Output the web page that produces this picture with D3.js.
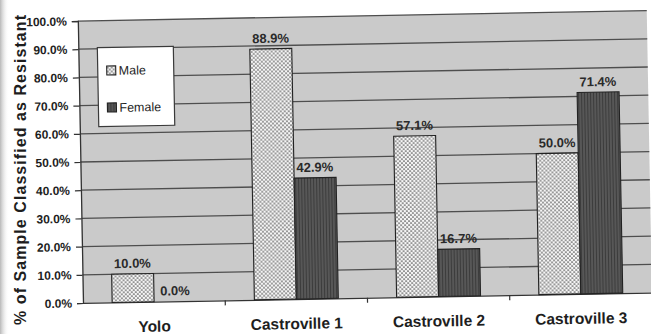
<!DOCTYPE html>
<html>
<head>
<meta charset="utf-8">
<script src="https://cdn.jsdelivr.net/npm/d3@7"></script>
<style>
  html, body { margin: 0; padding: 0; background: #ffffff; }
  svg { display: block; }
  text { font-family: "Liberation Sans", Arial, sans-serif; }
</style>
</head>
<body>
<svg id="chart" width="651" height="334"></svg>
<script>
// Share of samples classified as resistant, by site and sex
const categories = ["Yolo", "Castroville 1", "Castroville 2", "Castroville 3"];
const seriesNames = ["Male", "Female"];
const maleValues = [10.0, 88.9, 57.1, 50.0];
const femaleValues = [0.0, 42.9, 16.7, 71.4];
const yTickValues = [0, 10, 20, 30, 40, 50, 60, 70, 80, 90, 100];
const yTitle = "% of Sample Classified as Resistant";

const svg = d3.select("#chart");
const W = 651, H = 334;

// Layout
const plot = { left: 83, right: 652, top: 21, bottom: 303 };

const defs = svg.append("defs");

// Stippled fill for the male bars
const dots = defs.append("pattern")
  .attr("id", "pat-male").attr("patternUnits", "userSpaceOnUse")
  .attr("width", 4).attr("height", 4);
dots.append("rect").attr("width", 4).attr("height", 4).attr("fill", "#f6f6f6");
dots.append("circle").attr("cx", 1).attr("cy", 1).attr("r", 0.85).attr("fill", "#444");
dots.append("circle").attr("cx", 3).attr("cy", 3).attr("r", 0.85).attr("fill", "#444");

// Dark striped fill for the female bars
const stripes = defs.append("pattern")
  .attr("id", "pat-female").attr("patternUnits", "userSpaceOnUse")
  .attr("width", 3).attr("height", 4);
stripes.append("rect").attr("width", 3).attr("height", 4).attr("fill", "#575757");
stripes.append("rect").attr("x", 0).attr("width", 1).attr("height", 4).attr("fill", "#3c3c3c");

// Faint shading along the left edge of the sheet
const edge = defs.append("linearGradient").attr("id", "edge-shade")
  .attr("x1", 0).attr("x2", 1).attr("y1", 0).attr("y2", 0);
edge.append("stop").attr("offset", 0).attr("stop-color", "#b8b8b8");
edge.append("stop").attr("offset", 1).attr("stop-color", "#ffffff").attr("stop-opacity", 0);

svg.append("rect").attr("width", W).attr("height", H).attr("fill", "#ffffff");
svg.append("rect").attr("x", 0).attr("y", 0).attr("width", 9).attr("height", H)
  .attr("fill", "url(#edge-shade)");

// The whole chart sits slightly tilted on the page
const g = svg.append("g")
  .attr("transform", `rotate(-1.05, ${plot.left - 1}, ${plot.bottom})`);

const x0 = d3.scaleBand().domain(categories).range([plot.left, plot.right]).padding(0);
const bw = x0.bandwidth();
const x1 = d3.scaleBand().domain(seriesNames)
  .range([bw * 0.205, bw * 0.795]).padding(0);
const y = d3.scaleLinear().domain([0, 100]).range([plot.bottom, plot.top]);

// Plot background
g.append("rect")
  .attr("x", plot.left).attr("y", plot.top)
  .attr("width", plot.right - plot.left).attr("height", plot.bottom - plot.top)
  .attr("fill", "#cacaca");

// Horizontal gridlines
g.append("g").selectAll("line").data(yTickValues.filter(v => v > 0)).join("line")
  .attr("x1", plot.left).attr("x2", plot.right)
  .attr("y1", d => y(d)).attr("y2", d => y(d))
  .attr("stroke", "#4e4e4e").attr("stroke-width", 1.3);

// Y axis
const yAxis = g.append("g")
  .attr("transform", `translate(${plot.left},0)`)
  .call(d3.axisLeft(y).tickValues(yTickValues).tickSize(6).tickPadding(5)
    .tickFormat(d => d3.format(".1f")(d) + "%"));
yAxis.select(".domain").attr("stroke", "#333").attr("stroke-width", 1.3);
yAxis.selectAll(".tick line").attr("stroke", "#333").attr("stroke-width", 1.2);
yAxis.selectAll(".tick text")
  .attr("fill", "#1e1e1e").attr("font-size", 12).attr("font-weight", "bold")
  .attr("font-family", "'Liberation Sans', Arial, sans-serif");

// X axis
const xAxis = g.append("g")
  .attr("transform", `translate(0,${plot.bottom})`)
  .call(d3.axisBottom(x0).tickSize(0).tickPadding(0).tickFormat(""));
xAxis.select(".domain").attr("stroke", "#333").attr("stroke-width", 1.3);
// category boundary ticks
g.append("g").selectAll("line")
  .data(categories.slice(1)).join("line")
  .attr("x1", d => x0(d)).attr("x2", d => x0(d))
  .attr("y1", plot.bottom).attr("y2", plot.bottom + 5)
  .attr("stroke", "#333").attr("stroke-width", 1.2);
g.append("g").selectAll("text").data(categories).join("text")
  .attr("x", d => x0(d) + bw / 2)
  .attr("y", 333)
  .attr("text-anchor", "middle")
  .attr("font-size", 15.5).attr("font-weight", "bold").attr("fill", "#1e1e1e")
  .text(d => d);

// Bars
const rows = categories.map((c, i) => ({
  category: c,
  values: [
    { series: "Male", value: maleValues[i] },
    { series: "Female", value: femaleValues[i] }
  ]
}));
const fills = { Male: "url(#pat-male)", Female: "url(#pat-female)" };

const groups = g.append("g").selectAll("g").data(rows).join("g")
  .attr("transform", d => `translate(${x0(d.category)},0)`);

groups.selectAll("rect").data(d => d.values).join("rect")
  .attr("x", d => x1(d.series))
  .attr("width", x1.bandwidth())
  .attr("y", d => y(d.value))
  .attr("height", d => y(0) - y(d.value))
  .attr("fill", d => fills[d.series])
  .attr("stroke", d => d.value > 0 ? "#222" : "none")
  .attr("stroke-width", 1.1);

groups.selectAll("text").data(d => d.values).join("text")
  .attr("x", d => x1(d.series) + x1.bandwidth() / 2)
  .attr("y", d => y(d.value) - 6)
  .attr("text-anchor", "middle")
  .attr("font-size", 13).attr("font-weight", "bold").attr("fill", "#2a2a2a")
  .text(d => d.value.toFixed(1) + "%");

// Legend
const legend = g.append("g").attr("transform", "translate(102,48)");
legend.append("rect").attr("width", 76).attr("height", 79)
  .attr("fill", "#ffffff").attr("stroke", "#3a3a3a").attr("stroke-width", 1.2);
const items = legend.selectAll("g").data(seriesNames).join("g")
  .attr("transform", (d, i) => `translate(9,${23 + i * 37})`);
items.append("rect").attr("x", 0).attr("y", -4.5).attr("width", 9).attr("height", 9)
  .attr("fill", d => fills[d]).attr("stroke", "#222").attr("stroke-width", 1.1);
items.append("text").attr("x", 12).attr("y", 4.5)
  .attr("font-size", 12.5).attr("fill", "#1e1e1e")
  .text(d => d);

// Y axis title
svg.append("text")
  .attr("transform", `translate(26,170) rotate(-90)`)
  .attr("text-anchor", "middle")
  .attr("font-size", 16).attr("font-weight", "bold").attr("fill", "#1e1e1e")
  .attr("textLength", 310).attr("lengthAdjust", "spacing")
  .text(yTitle);
</script>
</body>
</html>
